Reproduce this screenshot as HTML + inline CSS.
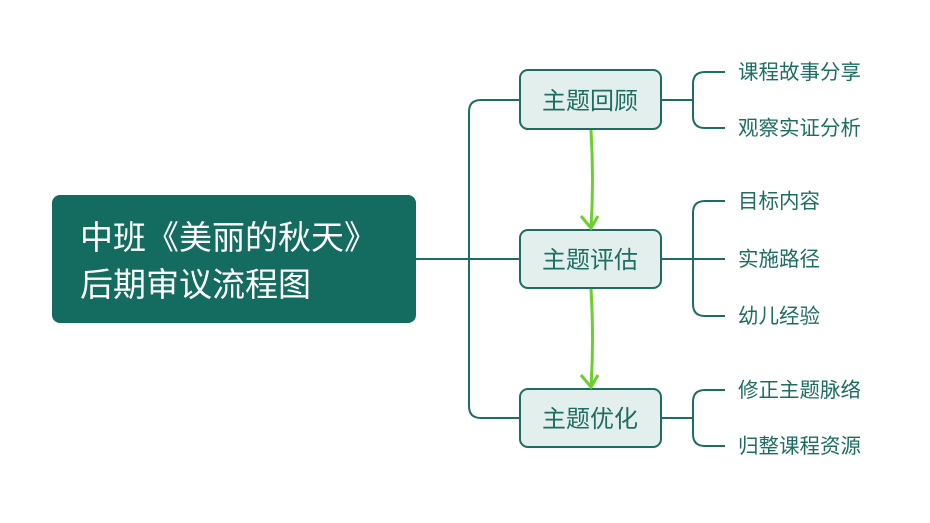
<!DOCTYPE html>
<html><head><meta charset="utf-8"><style>
body{margin:0;background:#fff;width:930px;height:518px;overflow:hidden}
text{font-family:"Liberation Sans","Noto Sans CJK SC",sans-serif}
</style></head><body>
<svg width="930" height="518" viewBox="0 0 930 518">
<g fill="none" stroke="#1e6d62" stroke-width="2">
<line x1="416" y1="259" x2="520" y2="259"/>
<path d="M520 100 H481 Q469 100 469 112 V406 Q469 418 481 418 H520"/>
<path d="M661 100 H693 M725 72 H705 Q693 72 693 84 V116 Q693 128 705 128 H725"/>
<path d="M661 259 H725 M725 201 H705 Q693 201 693 213 V304 Q693 316 705 316 H725"/>
<path d="M661 418 H693 M725 390 H705 Q693 390 693 402 V434 Q693 446 705 446 H725"/>
</g>
<rect x="52" y="195" width="364" height="128" rx="8" fill="#146b5f"/>
<text x="80" y="249" font-size="33" fill="#fff">中班《美丽的秋天》</text>
<text x="80" y="296" font-size="33" fill="#fff">后期审议流程图</text>
<g fill="#e2efed" stroke="#1e6d62" stroke-width="2">
<rect x="520" y="70" width="141" height="59" rx="8"/>
<rect x="520" y="230" width="141" height="58" rx="8"/>
<rect x="520" y="389" width="141" height="58" rx="8"/>
</g>
<g font-size="24" fill="#1e6d62" text-anchor="middle">
<text x="590" y="109">主题回顾</text>
<text x="590" y="268">主题评估</text>
<text x="590" y="427">主题优化</text>
</g>
<g fill="none" stroke="#6ccf2f" stroke-width="3">
<path d="M591 130 Q594 180 591 228"/>
<path d="M581 216 L591 228 L598 216"/>
<path d="M591 289 Q594 340 591 387"/>
<path d="M581 375 L591 387 L598 375"/>
</g>
<g font-size="20.5" fill="#1e6d62">
<text x="738" y="79">课程故事分享</text>
<text x="738" y="135">观察实证分析</text>
<text x="738" y="208">目标内容</text>
<text x="738" y="266">实施路径</text>
<text x="738" y="323">幼儿经验</text>
<text x="738" y="397">修正主题脉络</text>
<text x="738" y="453">归整课程资源</text>
</g>
</svg>
</body></html>
